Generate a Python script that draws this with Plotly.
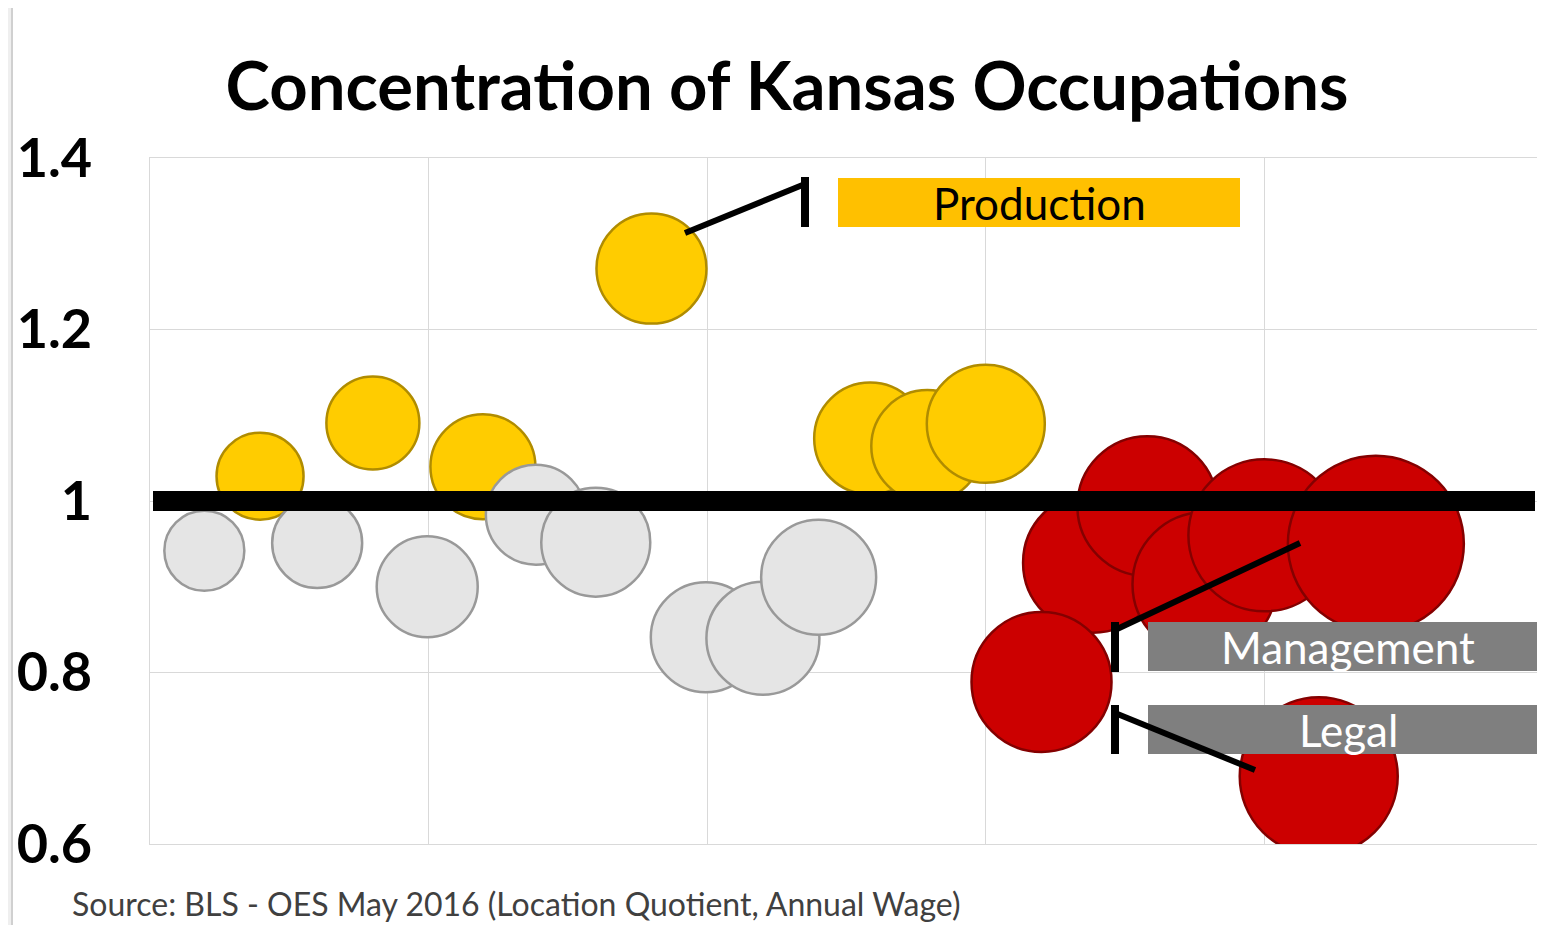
"""Concentration of Kansas occupations bubble chart."""

import plotly.graph_objects as go

# Annual wage ($k), location quotient and bubble size per occupation group
prod_wage = [27.9, 36.0, 43.9, 56.0, 71.7, 75.8, 80.0]
prod_lq = [1.029, 1.091, 1.040, 1.271, 1.073, 1.064, 1.090]
prod_size = [87, 93, 105, 110, 112, 112, 118]

mid_wage = [23.9, 32.0, 39.9, 47.7, 52.0, 59.9, 64.0, 68.0]
mid_lq = [0.942, 0.951, 0.900, 0.984, 0.952, 0.841, 0.840, 0.911]
mid_size = [80, 90, 101, 100, 109, 110, 113, 115]

high_wage = [87.7, 91.6, 95.7, 100.0, 108.0, 84.0, 103.9]
high_lq = [0.928, 0.994, 0.903, 0.960, 0.950, 0.789, 0.679]
high_size = [140, 140, 144, 152, 176, 140, 158]

y_ticks = [0.6, 0.8, 1.0, 1.2, 1.4]
y_tick_text = ["0.6", "0.8", "1", "1.2", "1.4"]

# page body has an 8px margin, so the figure is shrunk and placed at (8, 8)
OFF = 8
W, H = 1545 - OFF, 933 - 2 * OFF
X0, X1, Y0, Y1 = 150, 1543, 158, 844  # plot area in page pixels
L, R, T, B = X0 - OFF, W - (X1 - OFF), Y0 - OFF, H - (Y1 - OFF)
PW, PH = X1 - X0, Y1 - Y0


def px_x(px):
    return (px - X0) / PW


def px_y(py):
    return (Y1 - py) / PH


FONT = "Lato"

groups = [
    (prod_wage, prod_lq, prod_size, "#FFCC00", "#B08C00"),
    (mid_wage, mid_lq, mid_size, "#E5E5E5", "#999999"),
    (high_wage, high_lq, high_size, "#CC0000", "#840000"),
]

fig = go.Figure()
for wage, lq, size, color, rim in groups:
    fig.add_trace(
        go.Scatter(
            x=wage,
            y=lq,
            mode="markers",
            marker=dict(
                size=size,
                sizemode="diameter",
                sizeref=1,
                color=color,
                opacity=1,
                line=dict(color=rim, width=2.5),
            ),
            hoverinfo="skip",
            showlegend=False,
        )
    )

shapes = [
    # white panel over light grey page
    dict(type="rect", xref="paper", yref="paper", layer="below",
         x0=px_x(12), x1=px_x(1600), y0=px_y(1000), y1=px_y(7),
         fillcolor="white", line=dict(color="#D0D0D0", width=2)),
    # reference line at 1
    dict(type="line", xref="paper", yref="y", x0=px_x(153), x1=px_x(1535),
         y0=1, y1=1, line=dict(color="black", width=20)),
    # label boxes
    dict(type="rect", xref="paper", yref="paper", x0=px_x(838), x1=px_x(1240),
         y0=px_y(227), y1=px_y(178), fillcolor="#FFC000", line_width=0),
    dict(type="rect", xref="paper", yref="paper", x0=px_x(1148), x1=px_x(1560),
         y0=px_y(671), y1=px_y(622), fillcolor="#7F7F7F", line_width=0),
    dict(type="rect", xref="paper", yref="paper", x0=px_x(1148), x1=px_x(1560),
         y0=px_y(754), y1=px_y(705), fillcolor="#7F7F7F", line_width=0),
]

leaders = [
    ((685, 233), (805, 184), (805, 177), (805, 227)),
    ((1300, 543), (1115, 630), (1115, 622), (1115, 672)),
    ((1255, 770), (1115, 713), (1115, 705), (1115, 754)),
]
for a, b, v0, v1 in leaders:
    shapes.append(dict(type="line", xref="paper", yref="paper",
                       x0=px_x(a[0]), y0=px_y(a[1]), x1=px_x(b[0]), y1=px_y(b[1]),
                       line=dict(color="black", width=6)))
    shapes.append(dict(type="line", xref="paper", yref="paper",
                       x0=px_x(v0[0]), y0=px_y(v0[1]), x1=px_x(v1[0]), y1=px_y(v1[1]),
                       line=dict(color="black", width=8)))

labels = [
    ("Production", 1039, 203, "black"),
    ("Management", 1348, 647, "white"),
    ("Legal", 1348, 730, "white"),
]
annotations = [
    dict(text=t, x=px_x(x), y=px_y(y), xref="paper", yref="paper",
         showarrow=False, xanchor="center", yanchor="middle",
         font=dict(family=FONT, size=44, color=c))
    for t, x, y, c in labels
]
annotations.append(
    dict(text="Source: BLS - OES May 2016 (Location Quotient, Annual Wage)",
         x=px_x(70), y=px_y(903), xref="paper", yref="paper",
         showarrow=False, xanchor="left", yanchor="middle",
         font=dict(family=FONT, size=32, color="#404040"))
)

fig.update_layout(
    width=W,
    height=H,
    margin=dict(l=L, r=R, t=T, b=B),
    paper_bgcolor="#EFEFEF",
    plot_bgcolor="white",
    title=dict(
        text="<b>Concentration of Kansas Occupations</b>",
        x=(787 - OFF) / W,
        xanchor="center",
        y=1 - (87 - OFF) / H,
        yanchor="middle",
        font=dict(family=FONT, size=67, color="black"),
    ),
    shapes=shapes,
    annotations=annotations,
)
fig.update_xaxes(
    range=[20, 120],
    dtick=20,
    showticklabels=False,
    showgrid=True,
    gridcolor="#D9D9D9",
    gridwidth=1,
    zeroline=False,
    showline=True,
    linecolor="#D9D9D9",
    mirror=True,
)
fig.update_yaxes(
    range=[0.6, 1.4],
    tickvals=y_ticks,
    ticktext=y_tick_text,
    tickfont=dict(family=FONT, size=54, color="black", weight="bold"),
    ticklabelstandoff=46,
    showgrid=True,
    gridcolor="#D9D9D9",
    gridwidth=1,
    zeroline=False,
    showline=True,
    linecolor="#D9D9D9",
    mirror=True,
)

fig.write_html("out.html")
